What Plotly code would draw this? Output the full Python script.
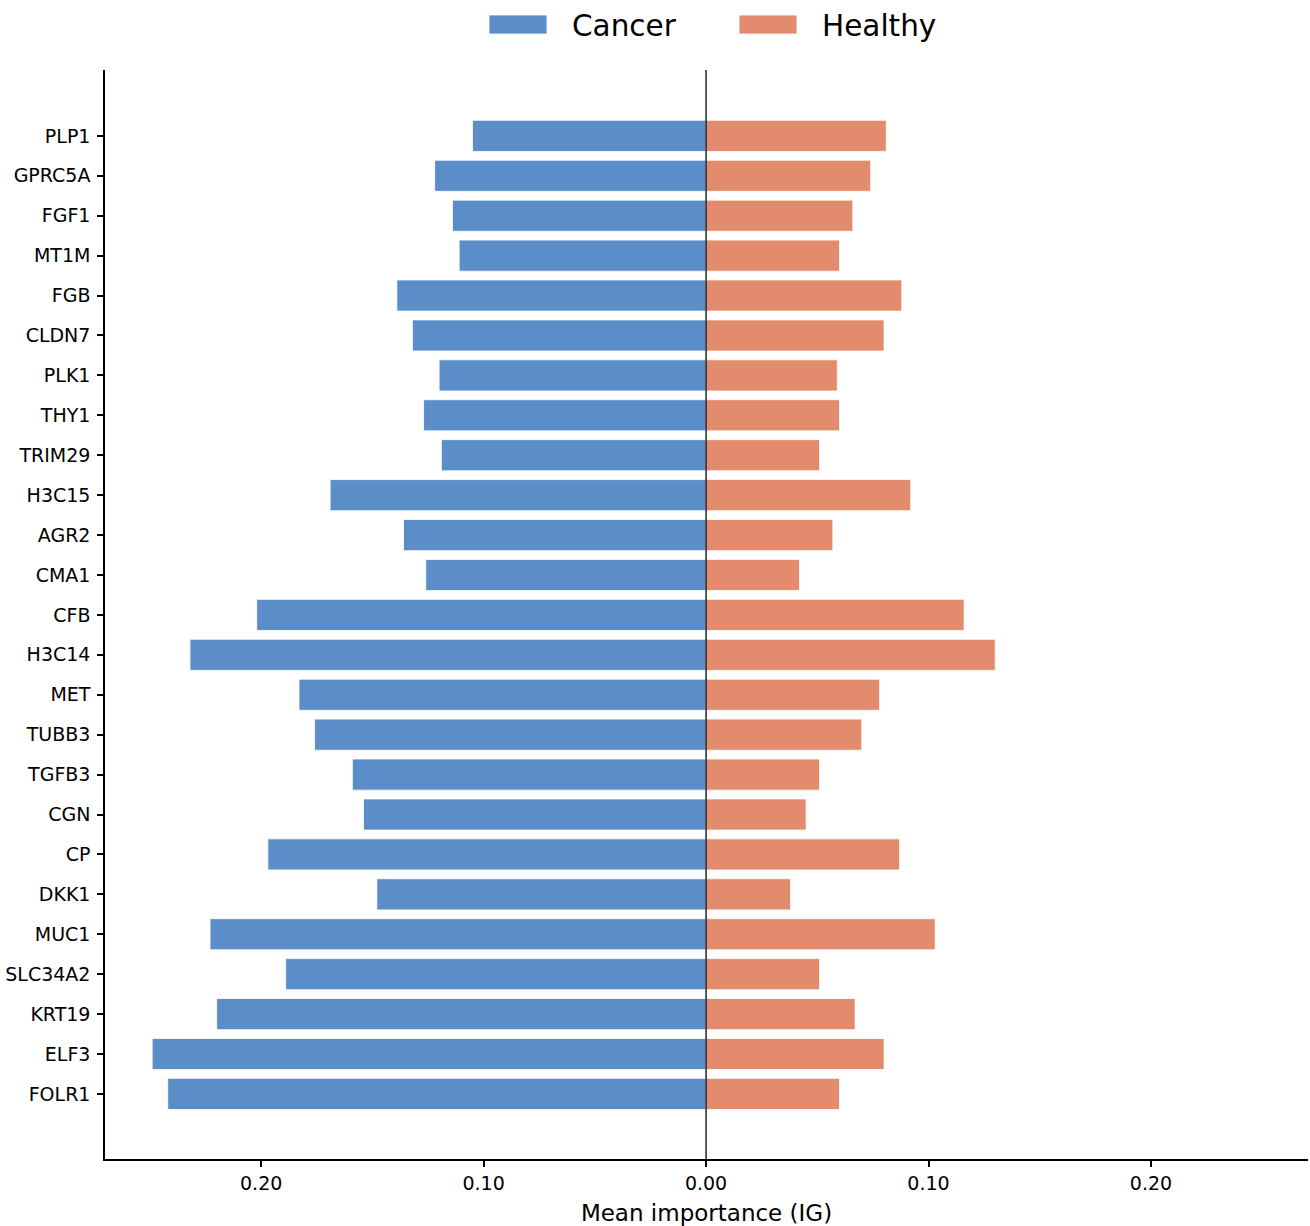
import plotly.graph_objects as go

genes = ["PLP1", "GPRC5A", "FGF1", "MT1M", "FGB", "CLDN7", "PLK1", "THY1", "TRIM29",
         "H3C15", "AGR2", "CMA1", "CFB", "H3C14", "MET", "TUBB3", "TGFB3", "CGN", "CP",
         "DKK1", "MUC1", "SLC34A2", "KRT19", "ELF3", "FOLR1"]
cancer = [0.105, 0.122, 0.114, 0.111, 0.139, 0.132, 0.120, 0.127, 0.119,
          0.169, 0.136, 0.126, 0.202, 0.232, 0.183, 0.176, 0.159, 0.154, 0.197,
          0.148, 0.223, 0.189, 0.220, 0.249, 0.242]
healthy = [0.081, 0.074, 0.066, 0.060, 0.088, 0.080, 0.059, 0.060, 0.051,
           0.092, 0.057, 0.042, 0.116, 0.130, 0.078, 0.070, 0.051, 0.045, 0.087,
           0.038, 0.103, 0.051, 0.067, 0.080, 0.060]
xtick_vals = [-0.2, -0.1, 0.0, 0.1, 0.2]
xtick_text = ["0.20", "0.10", "0.00", "0.10", "0.20"]

BLUE = "#5b8ec8"
ORANGE = "#e28b6d"
FONT = "DejaVu Sans"

fig = go.Figure()
fig.add_trace(go.Bar(y=genes, x=[-v for v in cancer], orientation="h", name="Cancer",
                     marker=dict(color=BLUE, line=dict(color="white", width=0.8)),
                     width=0.78))
fig.add_trace(go.Bar(y=genes, x=healthy, orientation="h", name="Healthy",
                     marker=dict(color=ORANGE, line=dict(color="white", width=0.8)),
                     width=0.78))

fig.update_layout(
    width=1310, height=1226,
    margin=dict(l=105, r=2, t=70, b=67),
    barmode="overlay",
    plot_bgcolor="white", paper_bgcolor="white",
    showlegend=False,
    font=dict(family=FONT, size=19, color="black"),
    xaxis=dict(range=[-0.2702, 0.2706], tickvals=xtick_vals, ticktext=xtick_text,
               showgrid=False, zeroline=False, showline=True, linecolor="black",
               linewidth=1.5, ticks="outside", ticklen=6, tickwidth=1.5,
               tickcolor="black", tickfont=dict(size=19), ticklabelstandoff=0,
               title=dict(text="Mean importance (IG)", font=dict(size=23), standoff=14)),
    yaxis=dict(range=[24 + 1.63, -1.65], showgrid=False, zeroline=False, showline=True,
               linecolor="black", linewidth=1.5, ticks="outside", ticklen=6,
               tickwidth=1.5, tickcolor="black", tickfont=dict(size=19),
               ticklabelstandoff=3),
)

# zero line
fig.add_shape(type="line", xref="x", yref="paper", x0=0, x1=0, y0=0, y1=1,
              line=dict(color="black", width=1.3))

# legend drawn above plot
def px_x(p):
    return (p - 105) / 1203.0

def px_y(p):
    return (1159 - p) / 1089.0

for (x0, x1, col, label, tx) in [(489, 547, BLUE, "Cancer", 570), (739, 797, ORANGE, "Healthy", 820)]:
    fig.add_shape(type="rect", xref="paper", yref="paper",
                  x0=px_x(x0), x1=px_x(x1), y0=px_y(34), y1=px_y(15),
                  fillcolor=col, line=dict(color="white", width=0.8))
    fig.add_annotation(xref="paper", yref="paper", x=px_x(tx), y=px_y(25.5),
                       xanchor="left", yanchor="middle", text=label, showarrow=False,
                       font=dict(family=FONT, size=29.5, color="black"))

fig.write_html("out.html")
